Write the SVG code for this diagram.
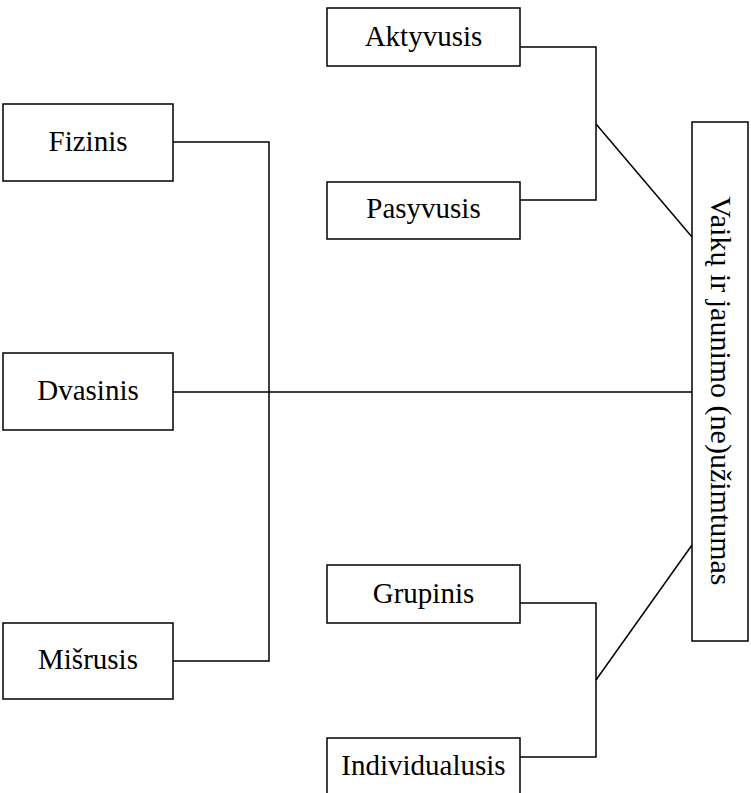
<svg xmlns="http://www.w3.org/2000/svg" width="751" height="793" viewBox="0 0 751 793">
<style>
.box{fill:#fff;stroke:#000;stroke-width:1.5}
.lbl{font-family:"Liberation Serif","Times New Roman",serif;font-size:29px;fill:#000;text-anchor:middle}
.con{fill:none;stroke:#000;stroke-width:1.5}
</style>
<rect width="751" height="793" fill="#fff"/>
<g id="connectors">
<polyline class="con" points="520,47 596,47 596,200 520,200"/>
<line class="con" x1="596" y1="124" x2="692" y2="237"/>
<polyline class="con" points="173,142 269,142 269,661 173,661"/>
<line class="con" x1="173" y1="392" x2="692" y2="392"/>
<polyline class="con" points="520,603 596,603 596,757 520,757"/>
<line class="con" x1="596" y1="680" x2="692" y2="545"/>
</g>
<g id="aktyvusis"><rect class="box" x="327" y="8" width="193" height="58"/><text class="lbl" x="423.5" y="46">Aktyvusis</text></g>
<g id="pasyvusis"><rect class="box" x="327" y="182" width="193" height="57"/><text class="lbl" x="423.5" y="218">Pasyvusis</text></g>
<g id="fizinis"><rect class="box" x="3" y="104" width="170" height="77"/><text class="lbl" x="88" y="151">Fizinis</text></g>
<g id="dvasinis"><rect class="box" x="3" y="353" width="170" height="77"/><text class="lbl" x="88" y="400">Dvasinis</text></g>
<g id="misrusis"><rect class="box" x="3" y="623" width="170" height="76"/><text class="lbl" x="88" y="669">Mišrusis</text></g>
<g id="grupinis"><rect class="box" x="327" y="565" width="193" height="58"/><text class="lbl" x="423.5" y="603">Grupinis</text></g>
<g id="individualusis"><rect class="box" x="327" y="738" width="193" height="60"/><text class="lbl" x="423.5" y="775">Individualusis</text></g>
<g id="vaiku"><rect class="box" x="692" y="122" width="56" height="519"/><text class="lbl" style="font-size:30px" transform="translate(711,391) rotate(90)" x="0" y="0">Vaikų ir jaunimo (ne)užimtumas</text></g>
</svg>
